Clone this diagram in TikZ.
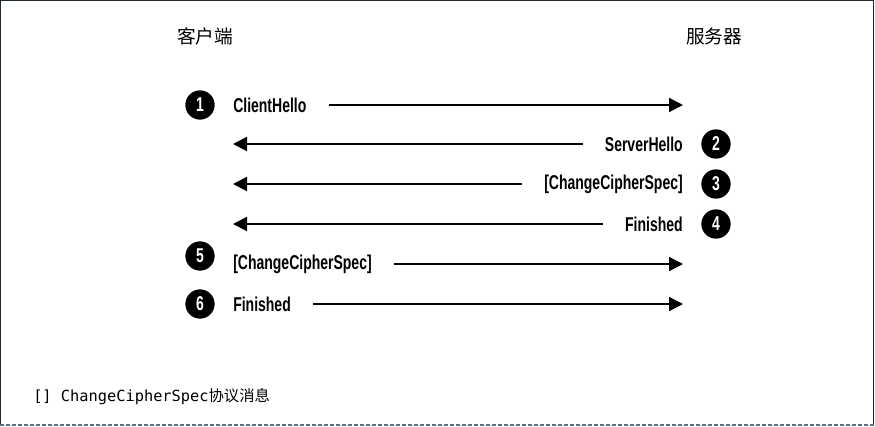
\documentclass[tikz,border=0pt]{standalone}
\usepackage{fontspec}
\setmainfont{Liberation Sans}
\newfontfamily\lblfont[FakeStretch=0.7]{Liberation Sans}
\newfontfamily\cjk{Noto Sans CJK SC}
\newfontfamily\notefont{DejaVu Sans Mono}
\usetikzlibrary{arrows.meta,positioning}

\begin{document}
\begin{tikzpicture}[x=0.75pt,y=0.75pt,yscale=-1,xscale=1,
	num/.style={circle,fill=black,text=white,minimum size=22pt,inner sep=0pt,font=\lblfont\bfseries\fontsize{15}{15}\selectfont},
	lbl/.style={inner sep=0pt,font=\lblfont\bfseries\fontsize{15}{15}\selectfont},
	msg/.style={line width=1.5pt,shorten <=16.5pt,-{Triangle[length=10.5pt,width=10.5pt]}}]
	\useasboundingbox (0,0) rectangle (875,426);
	
	%Shape: Frame
	\draw [color={rgb, 255:red, 33; green, 42; blue, 50 }  ,line width=1pt]  (0.7,426) -- (0.7,0.7) -- (873.5,0.7) -- (873.5,426) ;
	\draw [color={rgb, 255:red, 90; green, 110; blue, 130 }  ,line width=1.5pt ,dash pattern={on 3pt off 1.5pt}]  (0,424.5) -- (875,424.5) ;
	
	% Text Node
	\node (client) at (205,36) [font=\cjk\fontsize{14}{14}\selectfont] {客户端};
	% Text Node
	\node (server) at (714,36) [font=\cjk\fontsize{14}{14}\selectfont] {服务器};
	
	%Coordinates: ends of the messages
	\coordinate (srv1) at (683,105);
	\coordinate (cli2) at (233,144);
	\coordinate (cli3) at (233,184);
	\coordinate (cli4) at (233,224);
	\coordinate (srv5) at (683,264);
	\coordinate (srv6) at (683,304);
	
	% Step 1
	\node [num] (n1) at (200,105) {1};
	\node [lbl,anchor=west] (hello) at (233,105) {ClientHello};
	\draw [msg] (hello.east) -- (srv1);
	% Step 2
	\node [num] (n2) at (716,144) {2};
	\node [lbl,anchor=east] (shello) at (683,144) {ServerHello};
	\draw [msg] (shello.west) -- (cli2);
	% Step 3
	\node [num] (n3) at (716,184) {3};
	\node [lbl,anchor=east] (sccs) at (683,184) {[ChangeCipherSpec]};
	\draw [msg] (sccs.west) -- (cli3);
	% Step 4
	\node [num] (n4) at (716,224) {4};
	\node [lbl,anchor=east] (sfin) at (683,224) {Finished};
	\draw [msg] (sfin.west) -- (cli4);
	% Step 5
	\node [num] (n5) at (200,256) {5};
	\node [lbl,anchor=west] (cccs) at (233,264) {[ChangeCipherSpec]};
	\draw [msg] (cccs.east) -- (srv5);
	% Step 6
	\node [num] (n6) at (200,304) {6};
	\node [lbl,anchor=west] (cfin) at (233,304) {Finished};
	\draw [msg] (cfin.east) -- (srv6);
	
	% Text Node
	\node [anchor=west,inner sep=0pt,font=\notefont\fontsize{11.5}{12}\selectfont] (note) at (33,397) {[] ChangeCipherSpec{\cjk 协议消息}};
	
\end{tikzpicture}
\end{document}
